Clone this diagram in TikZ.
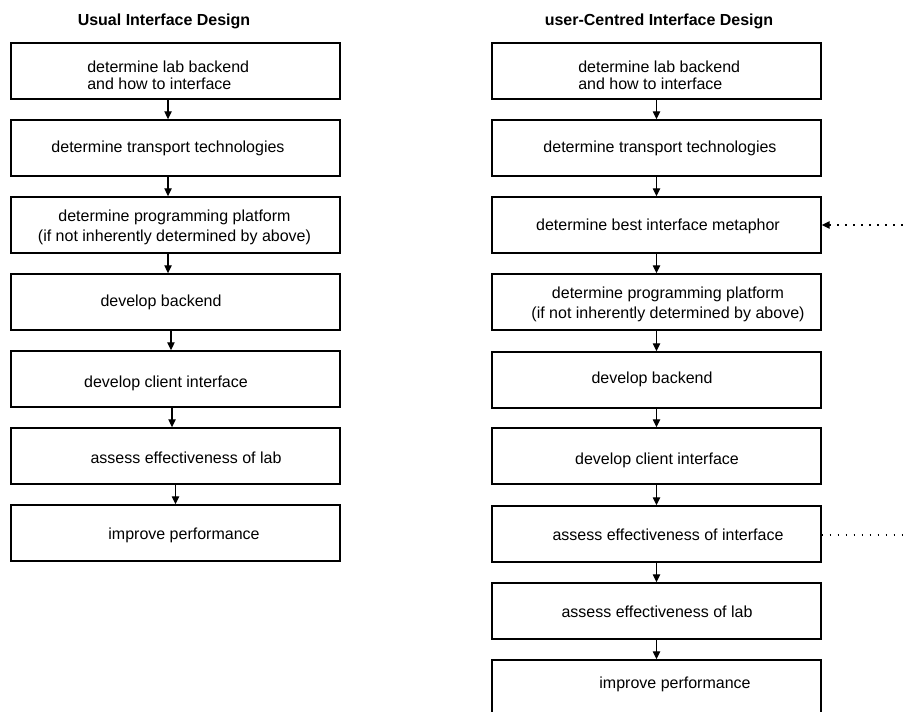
\documentclass[tikz,border=0pt]{standalone}
\usepackage{fontspec}
\setmainfont{Liberation Sans}
\usetikzlibrary{arrows.meta}
\begin{document}
\begin{tikzpicture}[x=0.75pt,y=-0.75pt,
 box/.style={draw=black,line width=1.1pt,minimum width=246.75pt,minimum height=42pt,inner sep=0pt},
 txt/.style={font=\fontsize{12}{12}\selectfont,inner sep=0pt,text height=8.6pt,text depth=2.5pt},
 txtm/.style={inner sep=0pt},
 ttl/.style={font=\fontsize{12}{12}\selectfont\bfseries,inner sep=0pt,text height=8.6pt,text depth=2.5pt},
 arr/.style={line width=1pt,-{Triangle[length=6pt,width=5.5pt]}},
 dots/.style={line width=1.1pt,dash pattern=on 1.1pt off 4.9pt}]
\useasboundingbox[fill=white] (0,0) rectangle (906,711);

% titles
\node[ttl] (T1) at (164,21) {Usual Interface Design};
\node[ttl] (T2) at (659,21) {user-Centred Interface Design};

% left column boxes
\node[box] (L1) at (175.5,71) {};
\node[box] (L2) at (175.5,148) {};
\node[box] (L3) at (175.5,225) {};
\node[box] (L4) at (175.5,302) {};
\node[box] (L5) at (175.5,379) {};
\node[box] (L6) at (175.5,456) {};
\node[box] (L7) at (175.5,533) {};

% left column texts
\node[txtm,anchor=west,align=left,font=\fontsize{12}{12.5}\selectfont] (tL1) at (87,75) {determine lab backend\\and how to interface};
\node[txt] (tL2) at (168,148) {determine transport technologies};
\node[txtm,align=center,font=\fontsize{12}{15}\selectfont] (tL3) at (174.5,227) {determine programming platform\\(if not inherently determined by above)};
\node[txt] (tL4) at (161,302) {develop backend};
\node[txt] (tL5) at (166,383) {develop client interface};
\node[txt] (tL6) at (186,459) {assess effectiveness of lab};
\node[txt] (tL7) at (184,535) {improve performance};

% left arrows
\draw[arr] ([xshift=-5.6pt]L1.south) -- ([xshift=-5.6pt]L2.north);
\draw[arr] ([xshift=-5.6pt]L2.south) -- ([xshift=-5.6pt]L3.north);
\draw[arr] ([xshift=-5.6pt]L3.south) -- ([xshift=-5.6pt]L4.north);
\draw[arr] ([xshift=-3.4pt]L4.south) -- ([xshift=-3.4pt]L5.north);
\draw[arr] ([xshift=-2.6pt]L5.south) -- ([xshift=-2.6pt]L6.north);
\draw[arr] (L6.south) -- (L7.north);

% right column boxes
\node[box] (R1) at (656.5,71) {};
\node[box] (R2) at (656.5,148) {};
\node[box] (R3) at (656.5,225) {};
\node[box] (R4) at (656.5,302) {};
\node[box] (R5) at (656.5,380) {};
\node[box] (R6) at (656.5,456) {};
\node[box] (R7) at (656.5,534) {};
\node[box] (R8) at (656.5,611) {};
\node[box] (R9) at (656.5,688) {};

% right column texts
\node[txtm,anchor=west,align=left,font=\fontsize{12}{12.5}\selectfont] (tR1) at (578,75) {determine lab backend\\and how to interface};
\node[txt] (tR2) at (660,148) {determine transport technologies};
\node[txt] (tR3) at (658,226) {determine best interface metaphor};
\node[txtm,align=center,font=\fontsize{12}{15}\selectfont] (tR4) at (668,304) {determine programming platform\\(if not inherently determined by above)};
\node[txt] (tR5) at (652,379) {develop backend};
\node[txt] (tR6) at (657,460) {develop client interface};
\node[txt] (tR7) at (668,536) {assess effectiveness of interface};
\node[txt] (tR8) at (657,613) {assess effectiveness of lab};
\node[txt] (tR9) at (675,684) {improve performance};

% right arrows
\draw[arr] (R1.south) -- (R2.north);
\draw[arr] (R2.south) -- (R3.north);
\draw[arr] (R3.south) -- (R4.north);
\draw[arr] (R4.south) -- (R5.north);
\draw[arr] (R5.south) -- (R6.north);
\draw[arr] (R6.south) -- (R7.north);
\draw[arr] (R7.south) -- (R8.north);
\draw[arr] (R8.south) -- (R9.north);

% dotted side connectors (leaving the picture)
\coordinate (E1) at (912,225);
\coordinate (E2) at (912,535);
\draw[dots,{Triangle[length=6pt,width=5.5pt]}-] (R3.east) -- (E1);
\draw[dots] ([yshift=-0.75pt]R7.east) -- (E2);
\end{tikzpicture}
\end{document}
